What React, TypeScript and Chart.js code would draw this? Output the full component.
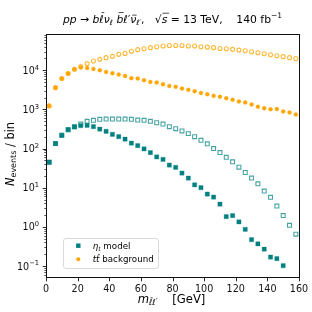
import React, { useEffect, useRef } from 'react';
import { Chart, registerables } from 'chart.js';

Chart.register(...registerables);

// ---------- data ----------
const binCenters = [2, 6, 10, 14, 18, 22, 26, 30, 34, 38, 42, 46, 50, 54, 58, 62, 66, 70, 74, 78,
  82, 86, 90, 94, 98, 102, 106, 110, 114, 118, 122, 126, 130, 134, 138, 142, 146, 150, 154, 158];

const etaFilled: (number | null)[] = [45, 134, 219, 304, 356, 384, 393, 363, 316, 277,
  232, 202, 174, 138, 119, 98, 79, 61, 53, 38,
  33, 23.7, 17.7, 11.9, 10, 6.9, 5.8, 3.8, 1.83, 1.95,
  1.34, 0.87, 0.47, 0.37, 0.27, 0.17, 0.155, 0.102, null, null];

const etaOpen: (number | null)[] = [45, 134, 219, 304, 360, 424, 497, 527, 558, 568,
  568, 568, 568, 558, 536, 527, 497, 457, 424, 363,
  323, 282, 241, 202, 163, 132, 100, 79, 60, 46,
  33.6, 24.5, 17.7, 12.6, 8.2, 5.7, 3.4, 1.95, 1.1, 0.65];

const ttFilled: (number | null)[] = [1230, 3600, 6150, 8250, 10600, 11700, 11400, 10800, 10000, 9060,
  8400, 7770, 7170, 6300, 6150, 5570, 5040, 4850, 4400, 3990,
  3770, 3400, 3160, 2930, 2640, 2450, 2220, 2100, 1940, 1760,
  1600, 1510, 1340, 1170, 1070, 1010, 1020, 880, 840, 740];

const ttOpen: (number | null)[] = [1230, 3600, 6150, 8250, 10600, 12400, 14800, 17200, 19000, 21000,
  22700, 25500, 27000, 30700, 33600, 35600, 37800, 40000, 41700, 42800,
  42800, 42800, 41700, 41700, 40000, 39000, 37800, 36000, 35600, 34200,
  32800, 31600, 29800, 28100, 26500, 25000, 23600, 22300, 21000, 19800];

const xTickValues = [0, 20, 40, 60, 80, 100, 120, 140, 160];
const yDecades = [-1, 0, 1, 2, 3, 4];
const legendLabels = ['η_t model', 'tt̄ background'];

// ---------- style ----------
const TEAL = '#008080';
const ORANGE = '#ffa500';
const FAM = '"DejaVu Sans"';

type Seg = { t: string; it?: boolean; sub?: boolean; sup?: boolean; bar?: number; barL?: number; barR?: number };

function segSize(s: Seg, size: number) {
  return s.sub || s.sup ? size * 0.7 : size;
}
function segFont(s: Seg, size: number) {
  return `${s.it ? 'italic ' : ''}${segSize(s, size)}px ${FAM}`;
}
function richWidth(ctx: CanvasRenderingContext2D, segs: Seg[], size: number) {
  let w = 0;
  for (const s of segs) {
    ctx.font = segFont(s, size);
    w += ctx.measureText(s.t).width;
  }
  return w;
}
function drawRich(ctx: CanvasRenderingContext2D, segs: Seg[], x: number, y: number, size: number,
  align: 'left' | 'center' | 'right', color = '#000') {
  const w = richWidth(ctx, segs, size);
  let cx = align === 'center' ? x - w / 2 : align === 'right' ? x - w : x;
  ctx.textAlign = 'left';
  ctx.textBaseline = 'alphabetic';
  ctx.fillStyle = color;
  ctx.strokeStyle = color;
  for (const s of segs) {
    ctx.font = segFont(s, size);
    const sz = segSize(s, size);
    const dy = s.sub ? size * 0.2 : s.sup ? -size * 0.42 : 0;
    ctx.fillText(s.t, cx, y + dy);
    const sw = ctx.measureText(s.t).width;
    if (s.bar) {
      const by = y + dy - sz * s.bar;
      const skew = s.it ? sz * 0.12 : 0;
      ctx.beginPath();
      ctx.lineWidth = Math.max(0.7, size * 0.065);
      ctx.moveTo(cx + skew + (s.barL ?? sz * 0.08), by);
      ctx.lineTo(cx + skew + sw - (s.barR ?? sz * 0.08), by);
      ctx.stroke();
    }
    cx += sw;
  }
}

const titleSegs: Seg[] = [
  { t: 'pp', it: true }, { t: ' → ' }, { t: 'b', it: true }, { t: 'ℓ', it: true, bar: 0.92 },
  { t: 'ν', it: true }, { t: 'ℓ', it: true, sub: true }, { t: ' ' },
  { t: 'b', it: true, bar: 0.92 }, { t: 'ℓ′', it: true }, { t: 'ν', it: true, bar: 0.68 },
  { t: 'ℓ′', it: true, sub: true }, { t: ',   ' },
  { t: '√' }, { t: 's', it: true, bar: 0.86, barL: -0.5, barR: -0.5 }, { t: ' = 13 TeV,    140 fb' },
  { t: '−1', sup: true },
];
const xLabelSegs: Seg[] = [
  { t: 'm', it: true }, { t: 'ℓ', it: true, sub: true, bar: 0.92 }, { t: 'ℓ′', it: true, sub: true },
  { t: '    [GeV]' },
];
const yLabelSegs: Seg[] = [{ t: 'N', it: true }, { t: 'events', sub: true }, { t: ' / bin' }];
const legendSegs: Seg[][] = [
  [{ t: 'η', it: true }, { t: 't', it: true, sub: true }, { t: ' model' }],
  [{ t: 't', it: true }, { t: 't', it: true, bar: 0.88 }, { t: ' background' }],
];

const decoPlugin = {
  id: 'deco',
  afterDraw(chart: any) {
    const ctx: CanvasRenderingContext2D = chart.ctx;
    const { left, right, top, bottom } = chart.chartArea;
    const xs = chart.scales.x;
    const ys = chart.scales.y;
    ctx.save();
    // frame
    ctx.strokeStyle = '#111';
    ctx.lineWidth = 1;
    const L = Math.floor(left) + 0.5, R = Math.floor(right) + 0.5;
    const T = Math.floor(top) + 0.5, B = Math.floor(bottom) + 0.5;
    ctx.strokeRect(L, T, R - L, B - T);

    // x ticks
    const tickSize = 9.6;
    ctx.lineWidth = 0.9;
    for (const v of xTickValues) {
      const px = Math.round(xs.getPixelForValue(v)) + 0.5;
      ctx.beginPath();
      ctx.moveTo(px, B);
      ctx.lineTo(px, B + 3.8);
      ctx.stroke();
      drawRich(ctx, [{ t: String(v) }], xs.getPixelForValue(v), B + 3.8 + 3.8 + tickSize * 0.74, tickSize, 'center', '#111');
    }
    // y ticks
    const yMin = ys.min, yMax = ys.max;
    for (let k = -2; k <= 5; k++) {
      for (let m = 2; m <= 9; m++) {
        const v = m * Math.pow(10, k);
        if (v < yMin || v > yMax) continue;
        const py = Math.round(ys.getPixelForValue(v)) + 0.5;
        ctx.beginPath();
        ctx.lineWidth = 0.7;
        ctx.moveTo(L - 2.2, py);
        ctx.lineTo(L, py);
        ctx.stroke();
      }
    }
    for (const k of yDecades) {
      const v = Math.pow(10, k);
      const pyr = ys.getPixelForValue(v);
      const py = Math.round(pyr) + 0.5;
      ctx.beginPath();
      ctx.lineWidth = 0.9;
      ctx.moveTo(L - 3.8, py);
      ctx.lineTo(L, py);
      ctx.stroke();
      const exp = k < 0 ? '−' + String(-k) : String(k);
      drawRich(ctx, [{ t: '10' }, { t: exp, sup: true }], L - 3.8 - 3.6, pyr + tickSize * 0.36, tickSize, 'right', '#111');
    }

    // title
    drawRich(ctx, titleSegs, (left + right) / 2, 22.5, 10.8, 'center');
    // x label
    drawRich(ctx, xLabelSegs, (left + right) / 2 - 1, 303, 11.6, 'center');
    // y label
    ctx.save();
    ctx.translate(13.5, (top + bottom) / 2 - 2);
    ctx.rotate(-Math.PI / 2);
    drawRich(ctx, yLabelSegs, 0, 0, 11.4, 'center');
    ctx.restore();

    // legend
    const bx = 63.5, by = 238.5, bw = 95, bh = 30;
    ctx.beginPath();
    (ctx as any).roundRect(bx, by, bw, bh, 2.5);
    ctx.fillStyle = 'rgba(255,255,255,0.8)';
    ctx.fill();
    ctx.strokeStyle = '#d6d6d6';
    ctx.lineWidth = 0.9;
    ctx.stroke();
    ctx.fillStyle = TEAL;
    ctx.fillRect(78.3 - 2.2, 245.7 - 2.2, 4.4, 4.4);
    ctx.beginPath();
    ctx.arc(78.3, 259.3, 2.0, 0, Math.PI * 2);
    ctx.fillStyle = ORANGE;
    ctx.fill();
    drawRich(ctx, legendSegs[0], 92.7, 248.8, 8.7, 'left');
    drawRich(ctx, legendSegs[1], 92.7, 262.4, 8.7, 'left');
    ctx.restore();
  },
};

function toPts(arr: (number | null)[]) {
  const out: { x: number; y: number }[] = [];
  binCenters.forEach((x, i) => {
    const v = arr[i];
    if (v !== null && v !== undefined) out.push({ x, y: v });
  });
  return out;
}

export default function App() {
  const ref = useRef<HTMLCanvasElement | null>(null);
  useEffect(() => {
    document.body.style.margin = '0';
    const canvas = ref.current;
    if (!canvas) return;
    const chart = new Chart(canvas, {
      type: 'scatter',
      data: {
        datasets: [
          {
            label: legendLabels[0], data: toPts(etaFilled), pointStyle: 'rect', pointRadius: 3.0,
            backgroundColor: TEAL, borderColor: TEAL, borderWidth: 0.3,
          },
          {
            label: legendLabels[1], data: toPts(ttFilled), pointStyle: 'circle', pointRadius: 2.0,
            backgroundColor: ORANGE, borderColor: ORANGE, borderWidth: 0.3,
          },
          {
            label: 'η_t open', data: toPts(etaOpen), pointStyle: 'rect', pointRadius: 2.75,
            backgroundColor: 'rgba(255,255,255,0)', borderColor: 'rgba(0,128,128,0.72)', borderWidth: 1.1,
          },
          {
            label: 'tt̄ open', data: toPts(ttOpen), pointStyle: 'circle', pointRadius: 2.0,
            backgroundColor: 'rgba(255,255,255,0)', borderColor: 'rgba(255,165,0,0.78)', borderWidth: 1.1,
          },
        ],
      } as any,
      options: {
        animation: false,
        responsive: false,
        maintainAspectRatio: false,
        devicePixelRatio: 1,
        layout: { padding: { left: 46, top: 34.5, right: 13, bottom: 34.5 } },
        scales: {
          x: { type: 'linear', min: 0, max: 160, display: false },
          y: { type: 'logarithmic', min: 0.051, max: 82000, display: false },
        },
        plugins: {
          legend: { display: false },
          title: { display: false },
          tooltip: { enabled: false },
        },
        elements: { point: { hoverRadius: 3 } },
      } as any,
      plugins: [decoPlugin],
    });
    return () => chart.destroy();
  }, []);
  return (
    <div style={{ width: 312, height: 312, background: '#fff' }}>
      <canvas ref={ref} width={312} height={312} style={{ display: 'block', width: 312, height: 312 }} />
    </div>
  );
}
